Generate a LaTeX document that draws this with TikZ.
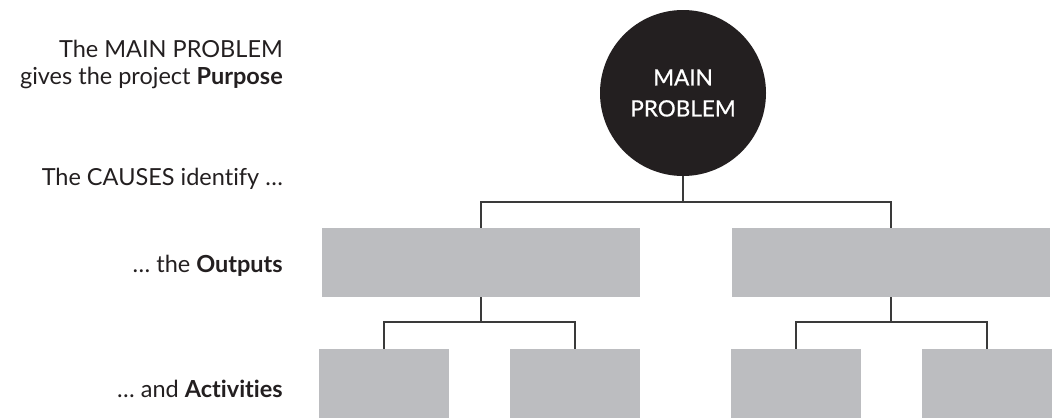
\documentclass[tikz,border=0pt]{standalone}
\usepackage{fontspec}
\setmainfont{Lato}[Ligatures={NoCommon}]
\newfontfamily\circfont{Lato}[Ligatures={NoCommon}, FakeBold=0.6]
\usetikzlibrary{positioning}
\definecolor{boxgray}{HTML}{BCBDC0}
\definecolor{circdark}{HTML}{231F20}
\definecolor{linegray}{HTML}{3A3A3A}
\tikzset{
  lbl/.style={anchor=base east, inner sep=0pt, align=right, font=\fontsize{23.5}{27}\selectfont, text=circdark},
  outbox/.style={fill=boxgray, draw=none, minimum width=318pt, minimum height=69pt, inner sep=0pt},
  leafbox/.style={fill=boxgray, draw=none, minimum width=130pt, minimum height=69.5pt, inner sep=0pt},
  conn/.style={draw=linegray, line width=1.3pt},
  mainc/.style={circle, fill=circdark, minimum size=166pt, inner sep=0pt, text=white, align=center, font=\circfont\fontsize{22.5}{31}\selectfont}
}
\begin{document}
\begin{tikzpicture}[x=1pt, y=-1pt]
\useasboundingbox (0,0) rectangle (1053,418);
% labels
\node[lbl] (t1) at (283,84) {The MAIN PROBLEM\\gives the project \textbf{Purpose}};
\node[lbl] (t2) at (283,185) {The CAUSES identify \dots};
\node[lbl] (t3) at (283,272) {\dots{} the \textbf{Outputs}};
\node[lbl] (t4) at (283,397) {\dots{} and \textbf{Activities}};
% main problem
\node[mainc] (mp) at (683,93) {MAIN\\PROBLEM};
% outputs
\node[outbox] (o1) at (481,262.5) {};
\node[outbox] (o2) at (891,262.5) {};
% activities
\node[leafbox] (a1) at (384,383.5) {};
\node[leafbox] (a2) at (575,383.5) {};
\node[leafbox] (a3) at (796,383.5) {};
\node[leafbox] (a4) at (987,383.5) {};
% junctions
\coordinate (j0) at (683,202);
\coordinate (j1) at (481,322);
\coordinate (j2) at (891,322);
% connectors
\draw[conn] (mp.south) -- (j0);
\draw[conn] (o1.north) |- (j0) -| (o2.north);
\draw[conn] (o1.south) -- (j1);
\draw[conn] (a1.north) |- (j1) -| (a2.north);
\draw[conn] (o2.south) -- (j2);
\draw[conn] (a3.north) |- (j2) -| (a4.north);
\end{tikzpicture}
\end{document}
